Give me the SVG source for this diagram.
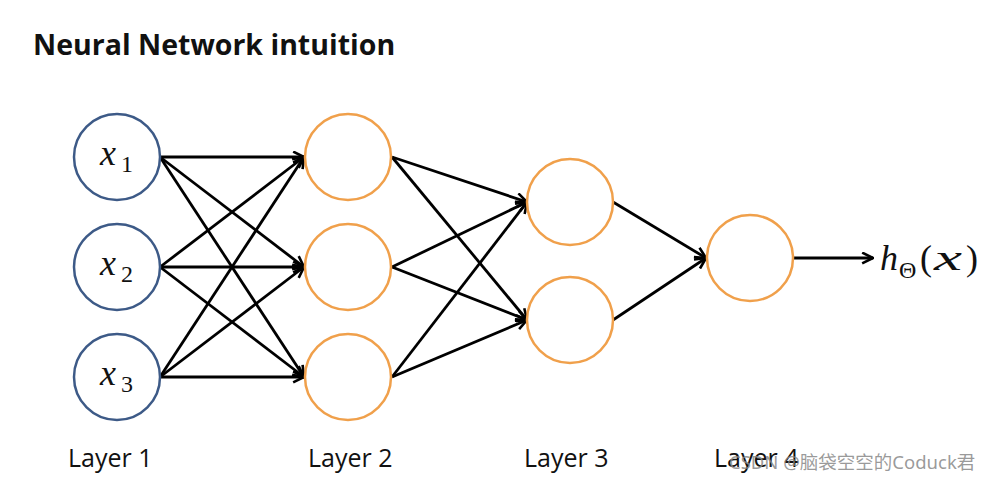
<svg xmlns="http://www.w3.org/2000/svg" width="1004" height="481" viewBox="0 0 1004 481">
<style>
.in{fill:#fff;stroke:#3d5a87;stroke-width:2.5}
.hid{fill:#fff;stroke:#f0a04b;stroke-width:2.5}
.e{stroke:#000;stroke-width:2.8;fill:none;marker-end:url(#ah)}
.m{font-family:"Liberation Serif",serif;font-style:italic;font-size:36px;fill:#111}
.r{font-family:"Liberation Serif",serif;font-size:36px;fill:#111}
.sub{font-family:"Liberation Serif",serif;font-size:24px;fill:#111}
.lbl{font-family:"Open Sans","Liberation Sans",sans-serif;font-size:25px;fill:#111}
</style>
<defs>
<marker id="ah" viewBox="0 0 12 12" refX="11" refY="6" markerWidth="13" markerHeight="13" markerUnits="userSpaceOnUse" orient="auto">
<path d="M1,1 L11,6 L1,11" fill="none" stroke="#000" stroke-width="2.4"/>
</marker>
</defs>
<rect width="1004" height="481" fill="#fff"/>
<text x="33" y="55" font-family="Open Sans, Liberation Sans, sans-serif" font-weight="bold" font-size="28.5" fill="#111">Neural Network intuition</text>
<g id="connectors">
<line class="e" x1="160" y1="157" x2="304" y2="157"/>
<line class="e" x1="160" y1="157" x2="304" y2="267"/>
<line class="e" x1="160" y1="157" x2="304" y2="377"/>
<line class="e" x1="160" y1="267" x2="304" y2="157"/>
<line class="e" x1="160" y1="267" x2="304" y2="267"/>
<line class="e" x1="160" y1="267" x2="304" y2="377"/>
<line class="e" x1="160" y1="377" x2="304" y2="157"/>
<line class="e" x1="160" y1="377" x2="304" y2="267"/>
<line class="e" x1="160" y1="377" x2="304" y2="377"/>
<line class="e" x1="392" y1="157" x2="527" y2="202"/>
<line class="e" x1="392" y1="157" x2="527" y2="320"/>
<line class="e" x1="392" y1="267" x2="527" y2="202"/>
<line class="e" x1="392" y1="267" x2="527" y2="320"/>
<line class="e" x1="392" y1="377" x2="527" y2="202"/>
<line class="e" x1="392" y1="377" x2="527" y2="320"/>
<line class="e" x1="613" y1="202" x2="706" y2="258"/>
<line class="e" x1="613" y1="320" x2="706" y2="258"/>
<line class="e" x1="793" y1="258" x2="873" y2="258"/>
</g>
<g id="x1"><circle class="in" cx="117" cy="157" r="43"/><text class="m" x="100" y="165">x</text><text class="sub" x="121" y="172">1</text></g>
<g id="x2"><circle class="in" cx="117" cy="267" r="43"/><text class="m" x="100" y="275">x</text><text class="sub" x="121" y="282">2</text></g>
<g id="x3"><circle class="in" cx="117" cy="377" r="43"/><text class="m" x="100" y="385">x</text><text class="sub" x="121" y="392">3</text></g>
<g id="h21"><circle class="hid" cx="348" cy="157" r="43"/></g>
<g id="h22"><circle class="hid" cx="348" cy="267" r="43"/></g>
<g id="h23"><circle class="hid" cx="348" cy="377" r="43"/></g>
<g id="h31"><circle class="hid" cx="570" cy="202" r="43"/></g>
<g id="h32"><circle class="hid" cx="570" cy="320" r="43"/></g>
<g id="h41"><circle class="hid" cx="750" cy="258" r="43"/></g>
<g id="output"><text class="m" x="880" y="270">h</text><text class="sub" x="899" y="278">Θ</text><text class="r" x="920" y="270">(</text><text class="m" x="934" y="270" textLength="28" lengthAdjust="spacingAndGlyphs">x</text><text class="r" x="966" y="270">)</text></g>
<g id="labels">
<text class="lbl" x="68" y="467">Layer 1</text>
<text class="lbl" x="308" y="467">Layer 2</text>
<text class="lbl" x="524" y="467">Layer 3</text>
<text class="lbl" x="714" y="467">Layer 4</text>
<text x="729" y="469" font-family="Noto Sans, Noto Sans CJK SC, sans-serif" font-size="18.5" fill="#888" fill-opacity="0.85">CSDN @脑袋空空的Coduck君</text>
</g>
</svg>
